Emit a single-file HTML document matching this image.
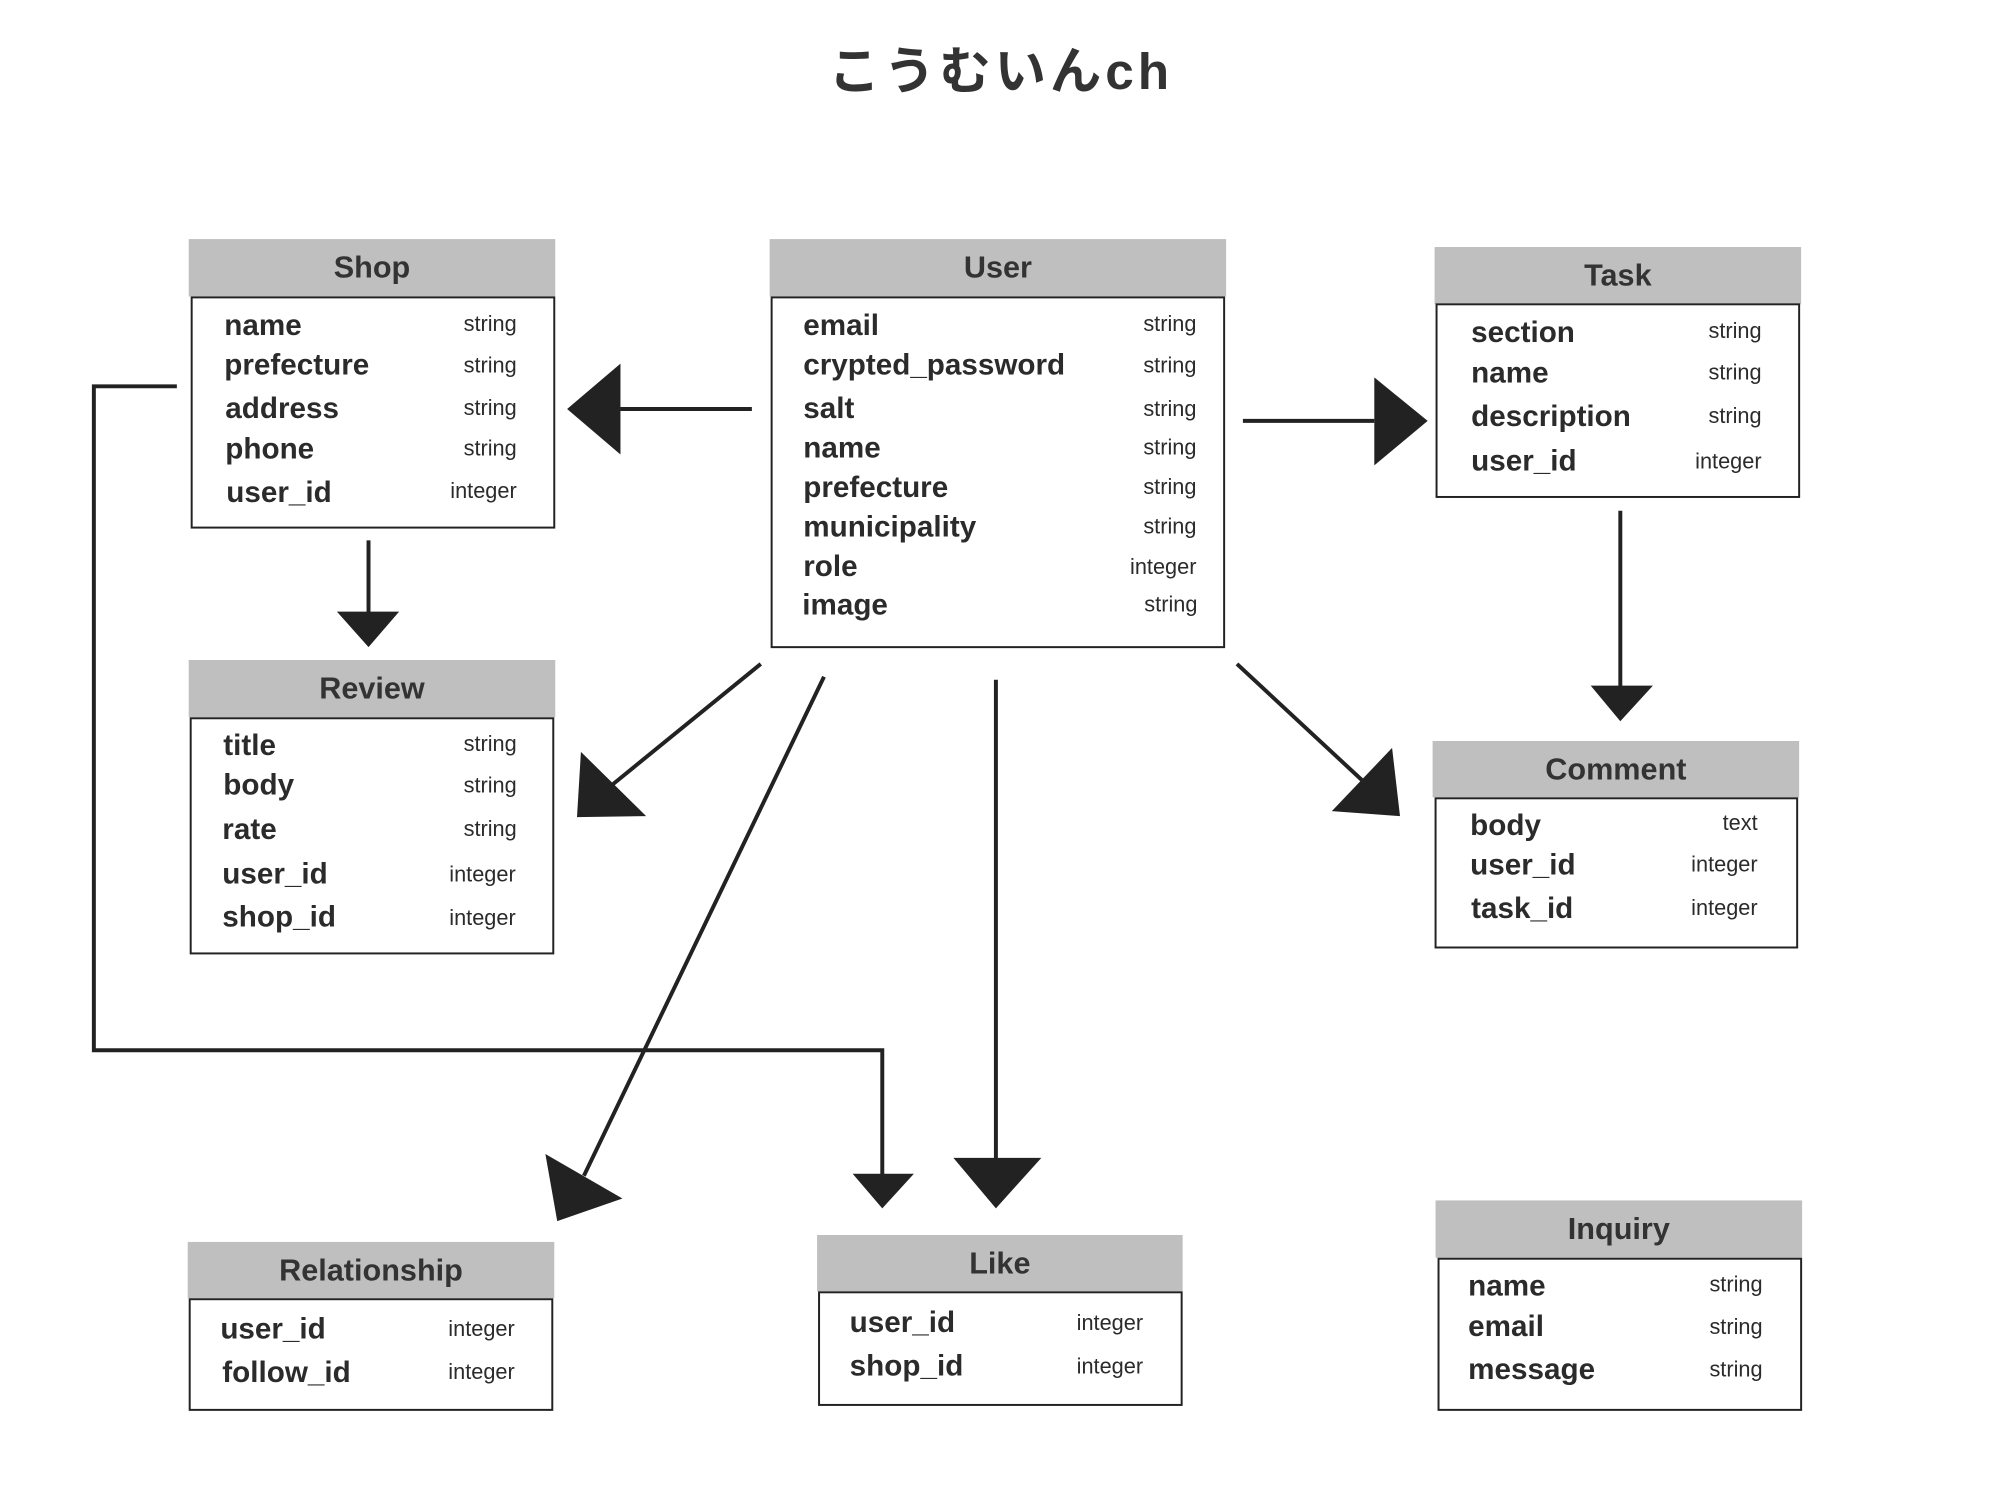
<!DOCTYPE html>
<html><head><meta charset="utf-8"><style>
body{margin:0;width:2000px;height:1500px;background:#fff;position:relative;overflow:hidden;font-family:"Liberation Sans","Noto Sans CJK JP",sans-serif;color:#2b2b2b}
#w{position:absolute;left:0;top:0;width:2000px;height:1500px;transform:scale(0.988);transform-origin:0 0}
.h{position:absolute;background:#bfbfbf;text-align:center;font-weight:bold;font-size:31px;color:#333}
.b{position:absolute;border:2.5px solid #222;box-sizing:border-box;background:#fff}
.n,.t{position:absolute;height:36px;line-height:36px;white-space:nowrap}
.n{font-weight:bold;font-size:30px}
.t{font-size:22px;text-align:right;width:150px}
svg{position:absolute;left:0;top:0}
</style></head><body><div id="w">
<div style="position:absolute;left:0;width:2026px;top:30px;text-align:center;font-size:52px;font-weight:bold;color:#333;font-family:'Liberation Sans','Noto Sans CJK JP',sans-serif;letter-spacing:4px">こうむいんch</div>

<svg width="2000" height="1500">
<g stroke="#222" stroke-width="4" fill="none">
<line x1="761" y1="414" x2="628" y2="414"/>
<line x1="1258" y1="426" x2="1391" y2="426"/>
<line x1="373" y1="547" x2="373" y2="620"/>
<line x1="1640" y1="517" x2="1640" y2="695"/>
<line x1="770" y1="672" x2="620" y2="794"/>
<line x1="834" y1="685" x2="591" y2="1190"/>
<line x1="1008" y1="688" x2="1008" y2="1173"/>
<line x1="1252" y1="672" x2="1380" y2="791"/>
<polyline points="179,391 95,391 95,1063 893,1063 893,1190"/>
</g>
<g fill="#222">
<polygon points="574,414 628,368 628,460"/>
<polygon points="1445,426 1391,382 1391,471"/>
<polygon points="341,619 404,619 373,655"/>
<polygon points="1610,694 1673,694 1640,730"/>
<polygon points="584,827 588,761 654,826"/>
<polygon points="564,1236 552,1168 630,1213"/>
<polygon points="965,1172 1054,1172 1008,1223"/>
<polygon points="1417,826 1348,821 1409,757"/>
<polygon points="863,1188 925,1188 893,1223"/>
</g>
</svg>

<div class="h" style="left:191px;top:242px;width:371px;height:58px;line-height:58px">Shop</div>
<div class="b" style="left:193px;top:300px;width:369px;height:235px"></div>
<div class="n" style="left:227px;top:312px">name</div><div class="t" style="left:373px;top:310px">string</div>
<div class="n" style="left:227px;top:352px">prefecture</div><div class="t" style="left:373px;top:352px">string</div>
<div class="n" style="left:228px;top:396px">address</div><div class="t" style="left:373px;top:395px">string</div>
<div class="n" style="left:228px;top:437px">phone</div><div class="t" style="left:373px;top:436px">string</div>
<div class="n" style="left:229px;top:481px">user_id</div><div class="t" style="left:373px;top:479px">integer</div>

<div class="h" style="left:779px;top:242px;width:462px;height:58px;line-height:58px">User</div>
<div class="b" style="left:780px;top:300px;width:460px;height:356px"></div>
<div class="n" style="left:813px;top:312px">email</div><div class="t" style="left:1061px;top:310px">string</div>
<div class="n" style="left:813px;top:352px">crypted_password</div><div class="t" style="left:1061px;top:352px">string</div>
<div class="n" style="left:813px;top:396px">salt</div><div class="t" style="left:1061px;top:396px">string</div>
<div class="n" style="left:813px;top:436px">name</div><div class="t" style="left:1061px;top:435px">string</div>
<div class="n" style="left:813px;top:476px">prefecture</div><div class="t" style="left:1061px;top:475px">string</div>
<div class="n" style="left:813px;top:516px">municipality</div><div class="t" style="left:1061px;top:515px">string</div>
<div class="n" style="left:813px;top:556px">role</div><div class="t" style="left:1061px;top:556px">integer</div>
<div class="n" style="left:812px;top:595px">image</div><div class="t" style="left:1062px;top:594px">string</div>

<div class="h" style="left:1452px;top:250px;width:371px;height:58px;line-height:58px">Task</div>
<div class="b" style="left:1453px;top:307px;width:369px;height:197px"></div>
<div class="n" style="left:1489px;top:319px">section</div><div class="t" style="left:1633px;top:317px">string</div>
<div class="n" style="left:1489px;top:360px">name</div><div class="t" style="left:1633px;top:359px">string</div>
<div class="n" style="left:1489px;top:404px">description</div><div class="t" style="left:1633px;top:403px">string</div>
<div class="n" style="left:1489px;top:449px">user_id</div><div class="t" style="left:1633px;top:449px">integer</div>

<div class="h" style="left:191px;top:668px;width:371px;height:58px;line-height:58px">Review</div>
<div class="b" style="left:192px;top:726px;width:369px;height:240px"></div>
<div class="n" style="left:226px;top:737px">title</div><div class="t" style="left:373px;top:735px">string</div>
<div class="n" style="left:226px;top:777px">body</div><div class="t" style="left:373px;top:777px">string</div>
<div class="n" style="left:225px;top:822px">rate</div><div class="t" style="left:373px;top:821px">string</div>
<div class="n" style="left:225px;top:867px">user_id</div><div class="t" style="left:372px;top:867px">integer</div>
<div class="n" style="left:225px;top:911px">shop_id</div><div class="t" style="left:372px;top:911px">integer</div>

<div class="h" style="left:1450px;top:750px;width:371px;height:57px;line-height:57px">Comment</div>
<div class="b" style="left:1452px;top:807px;width:368px;height:153px"></div>
<div class="n" style="left:1488px;top:818px">body</div><div class="t" style="left:1629px;top:815px">text</div>
<div class="n" style="left:1488px;top:858px">user_id</div><div class="t" style="left:1629px;top:857px">integer</div>
<div class="n" style="left:1489px;top:902px">task_id</div><div class="t" style="left:1629px;top:901px">integer</div>

<div class="h" style="left:190px;top:1257px;width:371px;height:57px;line-height:57px">Relationship</div>
<div class="b" style="left:191px;top:1314px;width:369px;height:114px"></div>
<div class="n" style="left:223px;top:1328px">user_id</div><div class="t" style="left:371px;top:1327px">integer</div>
<div class="n" style="left:225px;top:1372px">follow_id</div><div class="t" style="left:371px;top:1371px">integer</div>

<div class="h" style="left:827px;top:1250px;width:370px;height:57px;line-height:57px">Like</div>
<div class="b" style="left:828px;top:1307px;width:369px;height:116px"></div>
<div class="n" style="left:860px;top:1321px">user_id</div><div class="t" style="left:1007px;top:1321px">integer</div>
<div class="n" style="left:860px;top:1365px">shop_id</div><div class="t" style="left:1007px;top:1365px">integer</div>

<div class="h" style="left:1453px;top:1215px;width:371px;height:58px;line-height:58px">Inquiry</div>
<div class="b" style="left:1455px;top:1273px;width:369px;height:155px"></div>
<div class="n" style="left:1486px;top:1284px">name</div><div class="t" style="left:1634px;top:1282px">string</div>
<div class="n" style="left:1486px;top:1325px">email</div><div class="t" style="left:1634px;top:1325px">string</div>
<div class="n" style="left:1486px;top:1369px">message</div><div class="t" style="left:1634px;top:1368px">string</div>
</div></body></html>
